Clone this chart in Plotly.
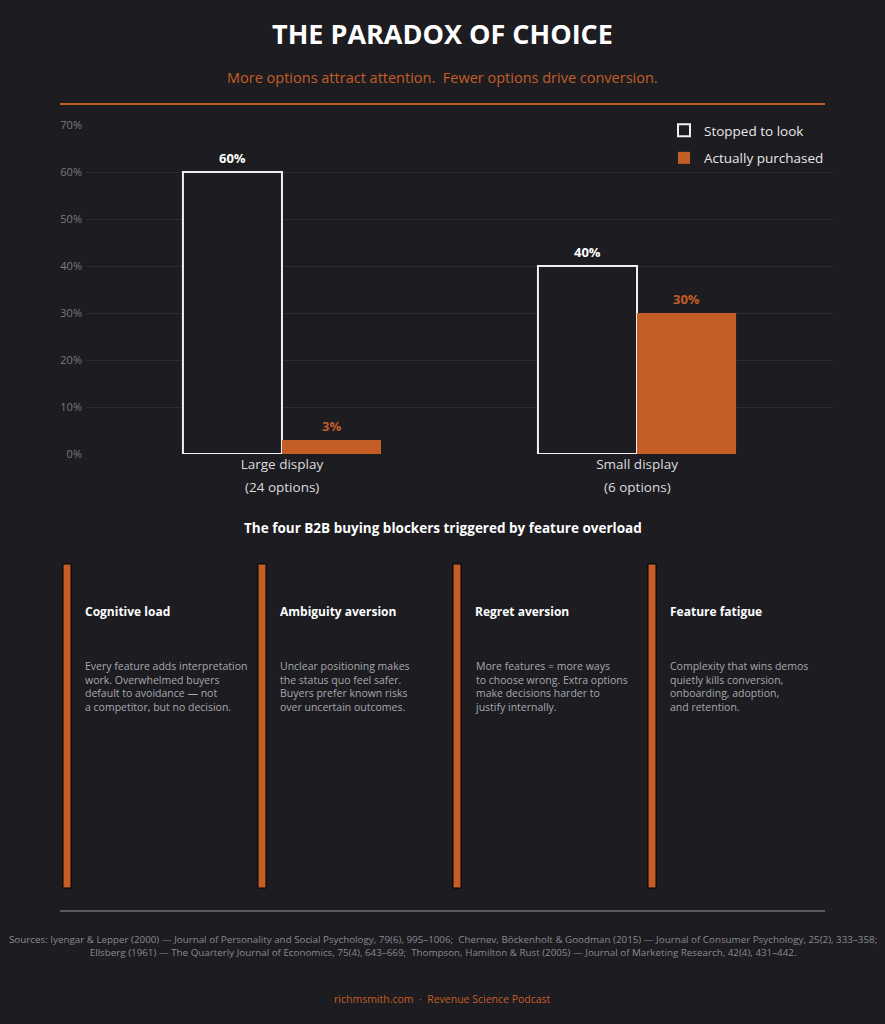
import plotly.graph_objects as go

W, H = 885, 1024
BG = "#1c1c21"
ORANGE = "#c45e26"
FONT = "Open Sans"

category_names = ["Large display", "Small display"]
category_options = ["(24 options)", "(6 options)"]
stopped = [60, 40]
purchased = [3, 30]
series_names = ["Stopped to look", "Actually purchased"]
y_ticks = [0, 10, 20, 30, 40, 50, 60, 70]

card_titles = ["Cognitive load", "Ambiguity aversion", "Regret aversion", "Feature fatigue"]
card_bodies = [
    "Every feature adds interpretation<br>work. Overwhelmed buyers<br>default to avoidance — not<br>a competitor, but no decision.",
    "Unclear positioning makes<br>the status quo feel safer.<br>Buyers prefer known risks<br>over uncertain outcomes.",
    "More features = more ways<br>to choose wrong. Extra options<br>make decisions harder to<br>justify internally.",
    "Complexity that wins demos<br>quietly kills conversion,<br>onboarding, adoption,<br>and retention.",
]

sources = ("Sources: Iyengar &amp; Lepper (2000) — Journal of Personality and Social Psychology, 79(6), 995–1006;  "
           "Chernev, Böckenholt &amp; Goodman (2015) — Journal of Consumer Psychology, 25(2), 333–358;<br>"
           "Ellsberg (1961) — The Quarterly Journal of Economics, 75(4), 643–669;  "
           "Thompson, Hamilton &amp; Rust (2005) — Journal of Marketing Research, 42(4), 431–442.")


def px(x):
    return x / W


def py(y):
    return 1 - y / H


x_idx = list(range(len(category_names)))
BAR_W = 0.279

fig = go.Figure()
fig.add_trace(go.Bar(
    x=x_idx, y=stopped, name=series_names[0], legendgroup="a",
    width=BAR_W, offset=-BAR_W,
    marker=dict(color=BG, line=dict(color="#f0f0f0", width=2)),
))
fig.add_trace(go.Bar(
    x=x_idx, y=purchased, name=series_names[1], legendgroup="b",
    width=BAR_W, offset=0,
    marker=dict(color=ORANGE, line=dict(width=0)),
))

fig.update_layout(
    width=W, height=H,
    margin=dict(l=0, r=0, t=0, b=0, pad=0, autoexpand=False),
    paper_bgcolor=BG, plot_bgcolor=BG,
    font=dict(family=FONT, color="#dddddd"),
    barmode="overlay",
    showlegend=True,
    legend=dict(x=px(664), y=py(115), xanchor="left", yanchor="top",
                bgcolor="rgba(0,0,0,0)", font=dict(size=13.5, color="#e8e8e8"),
                itemwidth=30, tracegroupgap=7),
    xaxis=dict(domain=[px(86), px(833)], range=[-0.552, 1.552],
               tickvals=x_idx, ticktext=category_names, showgrid=False, zeroline=False,
               tickfont=dict(size=13.5, color="#dddddd"), ticks="", showline=False),
    yaxis=dict(domain=[py(454), py(125)], range=[0, 70], tickvals=y_ticks,
               ticktext=[f"{t}%" for t in y_ticks], gridcolor="#2c2c31", gridwidth=1,
               zeroline=False, tickfont=dict(size=11, color="#7a7a80"), ticks="",
               showline=False, ticklabelstandoff=3),
)

annotations = [
    dict(text="<b>THE PARADOX OF CHOICE</b>", x=0.5, y=py(33), font=dict(size=27, color="#ffffff")),
    dict(text="More options attract attention.  Fewer options drive conversion.", x=0.5, y=py(77),
         font=dict(size=14.5, color=ORANGE)),
    dict(text="<b>The four B2B buying blockers triggered by feature overload</b>", x=0.5, y=py(528),
         font=dict(size=13.5, color="#ffffff")),
    dict(text=sources, x=0.5, y=py(946), font=dict(size=9.8, color="#8a8a90")),
    dict(text="richmsmith.com  ·  Revenue Science Podcast", x=0.5, y=py(999),
         font=dict(size=10.5, color=ORANGE)),
]

# second line of category labels
for i in x_idx:
    annotations.append(dict(text=category_options[i], xref="x", x=i, y=py(487),
                            font=dict(size=13.5, color="#dddddd")))

# value labels above bars (positions derived from data)
for i in x_idx:
    annotations.append(dict(text=f"<b>{stopped[i]}%</b>", xref="x", yref="y", x=i - BAR_W / 2,
                            y=stopped[i], yanchor="bottom", yshift=3,
                            font=dict(size=13, color="#ffffff")))
    annotations.append(dict(text=f"<b>{purchased[i]}%</b>", xref="x", yref="y", x=i + BAR_W / 2,
                            y=purchased[i], yanchor="bottom", yshift=3,
                            font=dict(size=13, color=ORANGE)))

shapes = [
    dict(type="line", xref="paper", yref="paper", x0=px(60), x1=px(825), y0=py(104), y1=py(104),
         line=dict(color=ORANGE, width=2)),
    dict(type="line", xref="paper", yref="paper", x0=px(60), x1=px(825), y0=py(911), y1=py(911),
         line=dict(color="#9a9aa0", width=1)),
]

card_x = [63, 258, 453, 648]
for i, (t, b) in enumerate(zip(card_titles, card_bodies)):
    x0 = card_x[i]
    shapes.append(dict(type="rect", xref="paper", yref="paper", x0=px(x0), x1=px(x0 + 8),
                       y0=py(888), y1=py(564), fillcolor=ORANGE, line=dict(color="#000000", width=1)))
    annotations.append(dict(text=f"<b>{t}</b>", x=px(x0 + 20), y=py(611), xanchor="left",
                            font=dict(size=12, color="#ffffff")))
    annotations.append(dict(text=b, x=px(x0 + 20), y=py(657), xanchor="left", yanchor="top",
                            align="left", font=dict(size=10.5, color="#a8a8ae")))

for a in annotations:
    a.setdefault("xref", "paper")
    a.setdefault("yref", "paper")
    a.setdefault("showarrow", False)
    a.setdefault("xanchor", "center")
    a.setdefault("yanchor", "middle")

fig.update_layout(annotations=annotations, shapes=shapes)
fig.write_html("out.html")
